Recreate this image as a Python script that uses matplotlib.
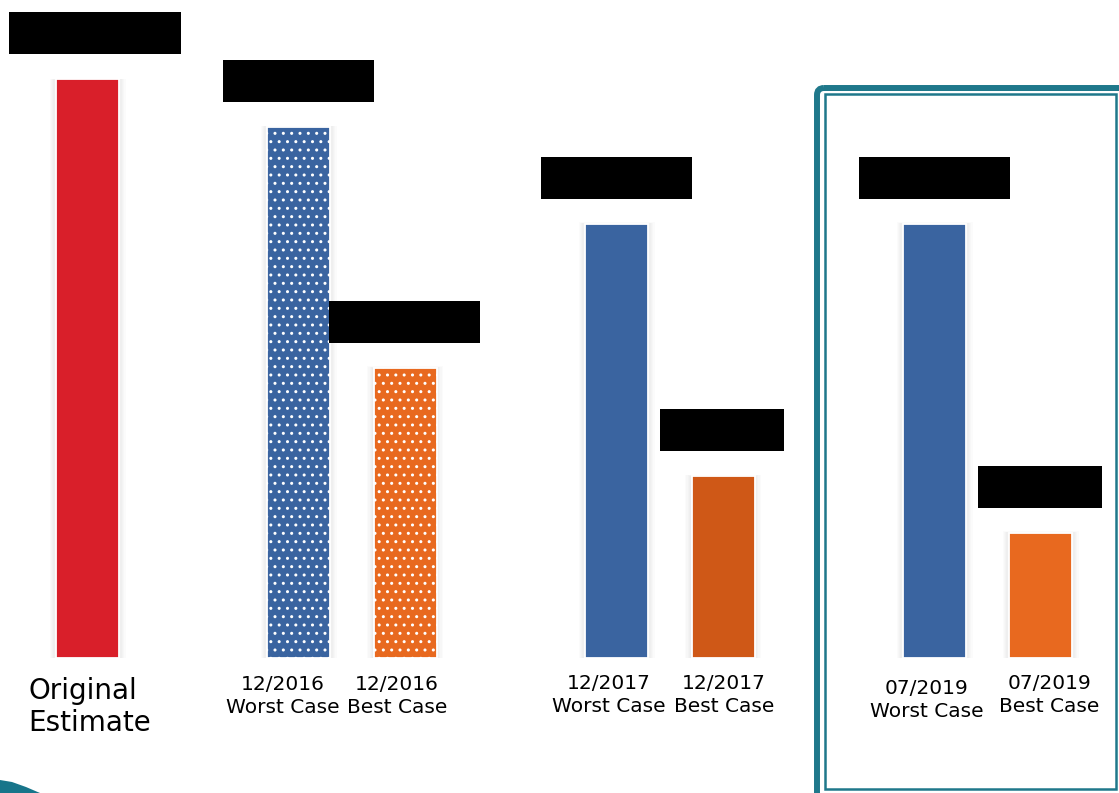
import matplotlib.pyplot as plt
from matplotlib.patches import Rectangle, FancyBboxPatch, Polygon

# bar values, relative to the original estimate (= 100); real numbers are redacted
labels = ["Original\nEstimate",
          "12/2016\nWorst Case", "12/2016\nBest Case",
          "12/2017\nWorst Case", "12/2017\nBest Case",
          "07/2019\nWorst Case", "07/2019\nBest Case"]
values = [100, 91.7, 50.1, 75.0, 31.4, 75.0, 21.6]
colors = ["#D91F2A", "#3A64A0", "#E8691F", "#3A64A0", "#CF5817", "#3A64A0", "#E8691F"]
dotted = [False, True, True, False, False, False, False]

# layout (pixels)
W, H = 1119, 793
centers = [87.5, 298.5, 405, 616.5, 723, 934.5, 1040.5]
bar_w = 63
base_px, top_px = 658, 79          # pixel rows of value 0 and value 100
box_w = [172, 151, 151, 151, 124, 151, 124]
box_dx = [7.5, 0, -0.5, 0, -1, 0, -0.5]
lab_dx = [None, -16, -8, -8, 1, -8, 9]
lab_y = [707, 696, 696, 695, 695, 700, 695]
teal = "#1F788B"

fig = plt.figure(figsize=(W / 100, H / 100), dpi=100)
ax = fig.add_axes([0, (H - base_px) / H, 1, (base_px - top_px) / H])
ax.set_xlim(0, W)
ax.set_ylim(0, 100)
ax.axis("off")
px = 100 / (base_px - top_px)      # one pixel in value units

# soft shadow beside the bars
for c, v in zip(centers, values):
    for k in range(1, 6):
        ax.add_patch(Rectangle((c - bar_w / 2 - k * 1.3, 0), bar_w + k * 2.6, v + k * 0.3 * px,
                               facecolor="black", alpha=0.014, linewidth=0, zorder=1))

bars = ax.bar(centers, values, width=bar_w, color=colors, edgecolor="white",
              linewidth=1.3, zorder=2)
plt.rcParams["hatch.linewidth"] = 0.7
for b, d in zip(bars, dotted):
    if d:
        b.set_hatch("..")

# redaction boxes above each bar
for c, v, bw, dx in zip(centers, values, box_w, box_dx):
    ax.add_patch(Rectangle((c + dx - bw / 2, v + 25 * px), bw, 42 * px,
                           facecolor="black", linewidth=0, zorder=3, clip_on=False))

# overlay in pixel coordinates for labels and slide decoration
ov = fig.add_axes([0, 0, 1, 1], facecolor="none")
ov.set_xlim(0, W)
ov.set_ylim(H, 0)
ov.axis("off")

ov.text(28, lab_y[0], labels[0], fontsize=20, ha="left", va="center",
        linespacing=1.22, color="black")
for c, lab, dx, y in zip(centers[1:], labels[1:], lab_dx[1:], lab_y[1:]):
    ov.text(c + dx, y, lab, fontsize=14.5, ha="center", va="center",
            linespacing=1.22, color="black", multialignment="center")

# double frame around the latest estimate
ov.add_patch(FancyBboxPatch((817, 88), 340, 740, boxstyle="round,pad=0,rounding_size=7",
                            facecolor="none", edgecolor=teal, linewidth=4.3, clip_on=False))
ov.add_patch(Rectangle((824.5, 94), 1116 - 824.5, 789 - 94,
                       facecolor="none", edgecolor=teal, linewidth=1.8))

# corner swoosh
ov.add_patch(Polygon([(0, 780), (12, 782), (26, 787), (40, 793), (0, 793)],
                     closed=True, facecolor="#17758A", linewidth=0))

fig.savefig("out.png", dpi=100)
